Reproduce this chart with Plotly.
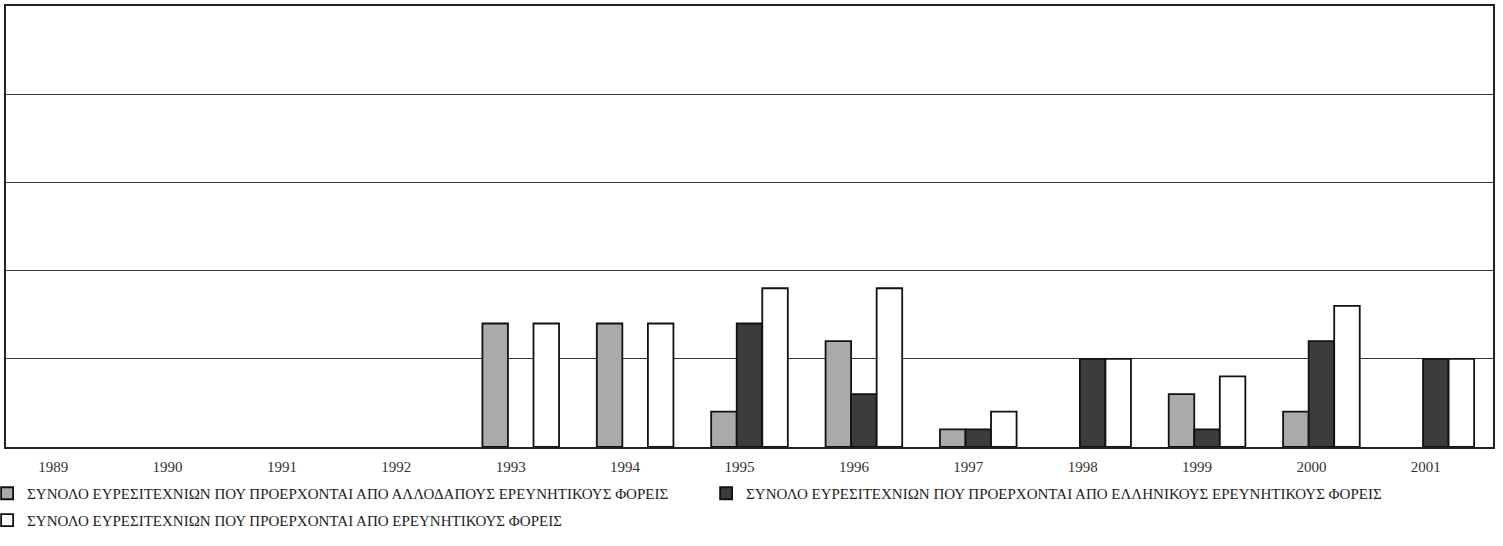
import plotly.graph_objects as go

years = ["1989", "1990", "1991", "1992", "1993", "1994", "1995", "1996", "1997", "1998", "1999", "2000", "2001"]
foreign = [0, 0, 0, 0, 7, 7, 2, 6, 1, 0, 3, 2, 0]
greek = [0, 0, 0, 0, 0, 0, 7, 3, 1, 5, 1, 6, 5]
total = [0, 0, 0, 0, 7, 7, 9, 9, 2, 5, 4, 8, 5]

names = [
    "ΣΥΝΟΛΟ ΕΥΡΕΣΙΤΕΧΝΙΩΝ ΠΟΥ ΠΡΟΕΡΧΟΝΤΑΙ ΑΠΟ ΑΛΛΟΔΑΠΟΥΣ ΕΡΕΥΝΗΤΙΚΟΥΣ ΦΟΡΕΙΣ",
    "ΣΥΝΟΛΟ ΕΥΡΕΣΙΤΕΧΝΙΩΝ ΠΟΥ ΠΡΟΕΡΧΟΝΤΑΙ ΑΠΟ ΕΛΛΗΝΙΚΟΥΣ ΕΡΕΥΝΗΤΙΚΟΥΣ ΦΟΡΕΙΣ",
    "ΣΥΝΟΛΟ ΕΥΡΕΣΙΤΕΧΝΙΩΝ ΠΟΥ ΠΡΟΕΡΧΟΝΤΑΙ ΑΠΟ ΕΡΕΥΝΗΤΙΚΟΥΣ ΦΟΡΕΙΣ",
]
colors = ["#aaaaaa", "#3c3c3c", "#ffffff"]

fig = go.Figure()
for vals, name, col, lg in zip([foreign, greek, total], names, colors, ["legend", "legend", "legend2"]):
    fig.add_trace(go.Bar(
        x=years, y=[v if v > 0 else None for v in vals], name=name, legend=lg,
        marker=dict(color=col, line=dict(color="#111111", width=1.8)),
    ))

font = "Liberation Serif"
fig.update_layout(
    width=1503, height=546,
    margin=dict(l=6, r=10, t=6, b=99, autoexpand=False),
    paper_bgcolor="white", plot_bgcolor="white",
    barmode="group", bargap=0.33, bargroupgap=0,
    font=dict(family=font, size=15, color="#222222"),
    showlegend=True,
    legend=dict(orientation="h", x=-0.0127, xanchor="left", y=-0.068, yanchor="top",
                entrywidth=674, entrywidthmode="pixels",
                font=dict(family=font, size=15, color="#222222"), bgcolor="rgba(0,0,0,0)"),
    legend2=dict(orientation="h", x=-0.0127, xanchor="left", y=-0.129, yanchor="top",
                 font=dict(family=font, size=15, color="#222222"), bgcolor="rgba(0,0,0,0)"),
    xaxis=dict(showline=True, linecolor="#222222", linewidth=1.5, mirror=True,
               ticks="", ticklabelstandoff=5, ticklabelshift=-10,
               tickfont=dict(family=font, size=15, color="#333333")),
    yaxis=dict(range=[0, 25], dtick=5, showticklabels=False, showgrid=True,
               gridcolor="#333333", gridwidth=1, zeroline=False,
               showline=True, linecolor="#222222", linewidth=1.5, mirror=True),
)

fig.write_html("out.html", config={"displayModeBar": False},
               post_script="document.body.style.margin='0';")
